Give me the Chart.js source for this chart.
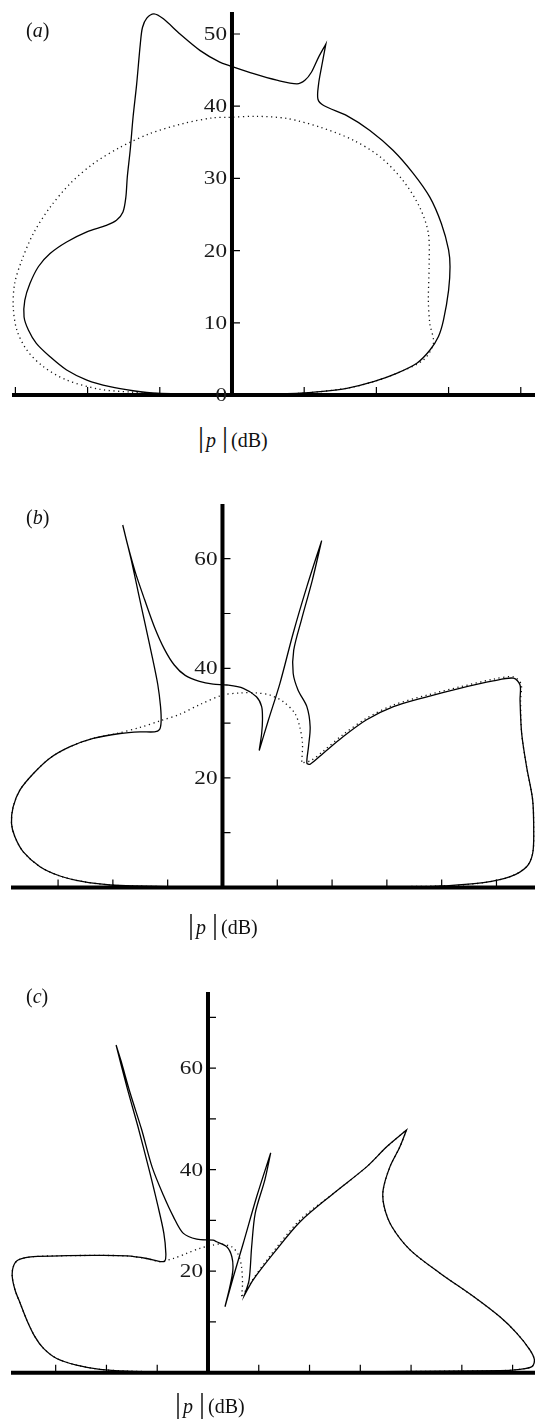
<!DOCTYPE html>
<html>
<head>
<meta charset="utf-8">
<script src="https://cdn.jsdelivr.net/npm/chart.js@4/dist/chart.umd.min.js"></script>
<style>
  html, body { margin: 0; padding: 0; background: #fff; }
  #page { position: relative; width: 535px; height: 1422px; overflow: hidden; font-family: "Liberation Serif", "Times New Roman", serif; color: #111; }
  canvas { position: absolute; left: 0; }
  .tag { position: absolute; font-size: 20px; line-height: 20px; white-space: nowrap; }
  .xlab { position: absolute; font-size: 20px; line-height: 24px; white-space: nowrap; }
  .xlab .bar { font-size: 30px; line-height: 24px; margin: 0 2px; }
  .xlab i { font-size: 20px; margin-right: 4px; }
  .xlab .db { font-size: 20px; margin-left: 1px; }
</style>
</head>
<body>
<div id="page">
  <canvas id="chartA" width="535" height="420" style="top:0px"></canvas>
  <canvas id="chartB" width="535" height="430" style="top:480px"></canvas>
  <canvas id="chartC" width="535" height="425" style="top:970px"></canvas>

  <div class="tag" style="left:26px; top:20px">(<i>a</i>)</div>
  <div class="tag" style="left:26px; top:507px">(<i>b</i>)</div>
  <div class="tag" style="left:26px; top:986px">(<i>c</i>)</div>

  <div class="xlab" style="left:196px; top:425px"><span class="bar">|</span><i>p</i><span class="bar">|</span><span class="db">(dB)</span></div>
  <div class="xlab" style="left:186px; top:912px"><span class="bar">|</span><i>p</i><span class="bar">|</span><span class="db">(dB)</span></div>
  <div class="xlab" style="left:173px; top:1391px"><span class="bar">|</span><i>p</i><span class="bar">|</span><span class="db">(dB)</span></div>
</div>

<script>
// (a) directivity, solid = full model, dotted = reference
const aSolidX = [0, -10.4, -13.7, -16.9, -20.1, -22.9, -25.2, -27.1, -28.2, -28.8, -28.7, -28.0, -26.8, -25.2, -22.9, -20.1, -17.4, -16.0, -15.1, -14.7, -14.5, -14.1, -13.7, -13.2, -12.7, -12.4, -11.8, -10.8, -9.5, -7.2, -4.4, -1.7, -0.3, 3.0, 6.2, 9.0, 10.1, 11.0, 12.0, 13.0, 12.4, 12.0, 11.9, 12.7, 15.9, 19.1, 22.3, 25.1, 27.4, 29.0, 30.0, 30.2, 30.0, 29.3, 28.6, 27.4, 25.6, 22.8, 19.6, 15.9, 12.2, 9.4, 0];
const aSolidY = [0, 0.24, 0.59, 1.15, 2.07, 3.46, 5.3, 7.15, 9.0, 10.8, 13.1, 15.4, 17.8, 19.6, 21.2, 22.6, 23.5, 24.2, 25.35, 27.4, 30.2, 33.9, 38.5, 43.1, 48.6, 50.9, 52.2, 52.8, 52.1, 50.0, 47.7, 46.1, 45.6, 44.5, 43.6, 43.1, 43.6, 44.7, 46.8, 48.6, 45.4, 43.1, 41.0, 40.1, 38.7, 36.65, 33.9, 30.7, 27.4, 23.75, 20.1, 17.75, 14.5, 10.4, 8.1, 6.2, 4.4, 3.0, 1.85, 0.93, 0.46, 0.24, 0];
const aDotX = [0, -10.4, -14.1, -18.3, -22.9, -26.1, -28.4, -29.8, -30.3, -30.1, -29.1, -27.5, -25.2, -22.4, -19.2, -15.5, -11.4, -6.75, -2.6, -0.7, 3.4, 7.6, 12.2, 16.8, 20.5, 23.7, 26.0, 27.2, 27.3, 27.2, 27.4, 27.9, 26.5, 22.8, 19.6, 15.9, 9.4, 0];
const aDotY = [0, 0.2, 0.41, 0.79, 2.07, 3.9, 6.2, 9.0, 12.2, 15.45, 18.7, 22.4, 26.0, 29.3, 32.05, 34.3, 36.2, 37.6, 38.4, 38.45, 38.6, 38.3, 37.1, 35.3, 33.0, 29.7, 26.0, 22.4, 17.75, 13.1, 9.9, 7.15, 4.84, 3.0, 1.85, 0.93, 0.24, 0];

// (b)
const bSolidX = [0, -16.3, -20.5, -25.4, -29.65, -33.3, -36.35, -37.9, -38.5, -38.2, -36.95, -34.5, -31.5, -27.8, -23.6, -18.7, -15.05, -12.4, -11.5, -11.2, -11.3, -11.8, -12.8, -14.1, -15.4, -16.7, -18.2, -17.3, -15.9, -14.2, -12.4, -10.6, -8.8, -6.8, -4.2, -1.7, 0.8, 3.8, 6.2, 7.15, 7.3, 7.15, 6.7, 8.4, 10.5, 12.9, 15.4, 18.1, 16.4, 14.4, 13.0, 12.9, 13.8, 15.4, 16.0, 15.7, 15.4, 16.0, 18.4, 22.0, 26.3, 31.2, 37.3, 43.3, 49.4, 53.1, 54.3, 54.3, 54.6, 55.5, 56.6, 56.8, 56.6, 55.5, 52.5, 47.6, 40.3, 34.2, 0];
const bSolidY = [0, 0.27, 0.46, 1.06, 2.1, 3.8, 6.5, 9.3, 11.7, 14.7, 17.8, 20.8, 23.6, 25.7, 27.2, 28.1, 28.4, 28.4, 28.8, 30.2, 33.0, 37.0, 42.0, 48.0, 54.0, 60.0, 66.15, 62.5, 57.5, 52.5, 47.5, 43.5, 40.6, 38.7, 37.6, 37.1, 36.95, 36.35, 34.8, 33.0, 30.6, 28.1, 25.0, 30.6, 37.3, 46.4, 54.9, 63.3, 56.1, 48.8, 43.3, 39.1, 36.0, 33.0, 29.3, 25.7, 22.7, 22.5, 24.5, 27.5, 30.6, 33.0, 34.8, 36.35, 37.7, 38.2, 36.95, 34.2, 28.1, 22.0, 16.0, 9.9, 6.2, 3.8, 1.97, 0.88, 0.27, 0.04, 0];
const bDotX = [0, -16.3, -20.5, -25.4, -29.65, -33.3, -36.35, -37.9, -38.5, -38.2, -36.95, -34.5, -31.5, -27.8, -23.6, -19.3, -15.05, -11.4, -7.8, -4.1, 0, 3.2, 6.2, 8.7, 11.1, 13.2, 14.1, 14.6, 14.45, 16.2, 18.4, 22.0, 26.3, 31.2, 37.3, 43.3, 49.4, 53.1, 54.5, 54.4, 54.6, 55.5, 56.6, 56.8, 56.6, 55.5, 52.5, 47.6, 40.3, 0];
const bDotY = [0, 0.27, 0.46, 1.06, 2.1, 3.8, 6.5, 9.3, 11.7, 14.7, 17.8, 20.8, 23.6, 25.7, 27.2, 28.1, 29.2, 30.4, 31.6, 33.4, 35.1, 35.5, 35.5, 35.1, 33.9, 31.8, 29.3, 26.3, 22.7, 23.2, 24.9, 27.9, 30.9, 33.3, 35.1, 36.6, 38.0, 38.45, 37.1, 34.2, 28.1, 22.0, 16.0, 9.9, 6.2, 3.8, 1.97, 0.88, 0.27, 0];

// (c)
const cSolidX = [0, -16.0, -21.3, -25.9, -29.8, -32.4, -34.1, -35.7, -37.0, -38.0, -38.55, -38.35, -37.4, -34.4, -27.8, -21.3, -16.0, -12.1, -9.45, -8.5, -8.3, -8.7, -9.9, -11.6, -13.8, -15.9, -18.1, -17.15, -15.3, -13.1, -11.0, -8.8, -6.8, -4.9, -2.2, 1.0, 1.7, 3.7, 4.7, 4.9, 4.3, 3.35, 5.0, 6.95, 9.6, 12.35, 11.2, 9.3, 8.6, 8.1, 7.15, 8.9, 12.9, 18.1, 24.7, 31.3, 35.2, 39.1, 37.8, 35.85, 34.5, 34.7, 36.2, 39.8, 45.7, 52.3, 57.5, 60.8, 63.4, 64.3, 63.8, 61.45, 57.5, 0];
const cSolidY = [0, 0.33, 0.67, 1.5, 2.8, 4.8, 7.1, 10.4, 13.7, 16.3, 18.9, 20.9, 22.2, 22.85, 23.05, 23.1, 23.0, 22.5, 21.9, 22.0, 23.5, 27.5, 33.0, 40.0, 48.5, 56.0, 64.55, 61.5, 55.0, 48.0, 40.5, 35.0, 30.7, 27.5, 26.3, 26.1, 25.8, 24.8, 22.85, 20.2, 16.9, 13.0, 18.9, 25.5, 34.7, 43.3, 38.0, 31.4, 24.8, 18.3, 15.2, 18.3, 23.5, 29.7, 35.3, 40.6, 44.5, 47.8, 44.5, 40.6, 36.0, 32.7, 28.8, 24.2, 19.6, 15.0, 11.0, 7.8, 4.5, 2.5, 1.2, 0.67, 0.39, 0];
const cDotX = [0, -16.0, -21.3, -25.9, -29.8, -32.4, -34.1, -35.7, -37.0, -38.0, -38.55, -38.35, -37.4, -34.4, -27.8, -21.3, -16.0, -12.1, -9.45, -6.8, -4.2, -1.6, 1.0, 2.4, 4.7, 6.0, 6.6, 6.8, 6.6, 8.3, 11.6, 18.1, 24.7, 31.3, 35.2, 39.1, 37.8, 35.85, 34.5, 34.7, 36.2, 39.8, 45.7, 52.3, 57.5, 60.8, 63.4, 64.3, 63.8, 61.45, 57.5, 0];
const cDotY = [0, 0.33, 0.67, 1.5, 2.8, 4.8, 7.1, 10.4, 13.7, 16.3, 18.9, 20.9, 22.2, 22.85, 23.05, 23.1, 23.0, 22.5, 21.9, 22.5, 23.5, 24.5, 25.15, 25.35, 24.8, 23.2, 20.9, 17.6, 14.8, 17.6, 22.2, 30.1, 35.3, 40.6, 44.5, 47.8, 44.5, 40.6, 36.0, 32.7, 28.8, 24.2, 19.6, 15.0, 11.0, 7.8, 4.5, 2.5, 1.2, 0.67, 0.39, 0];

// tick positions and which of them carry a number
const aXTicks = [-30, -20, -10, 10, 20, 30, 40];
const aYTicks = [10, 20, 30, 40, 50];
const aYLabels = [0, 10, 20, 30, 40, 50];
const bXTicks = [-30, -20, -10, 10, 20, 30, 40, 50];
const bYTicks = [10, 20, 30, 40, 50, 60];
const bYLabels = [20, 40, 60];
const cXTicks = [-30, -20, -10, 10, 20, 30, 40, 50, 60];
const cYTicks = [10, 20, 30, 40, 50, 60, 70];
const cYLabels = [20, 40, 60];

// pair up x/y lists; a point where the path doubles back is repeated
// so the spline leaves the tip pointed instead of rounding it
function pts(xs, ys) {
  const p = xs.map((x, i) => ({ x: x, y: ys[i] }));
  const out = [];
  p.forEach((c, i) => {
    out.push(c);
    const a = p[i - 1], b = p[i + 1];
    if (!a || !b) return;
    const ux = c.x - a.x, uy = c.y - a.y, vx = b.x - c.x, vy = b.y - c.y;
    const cos = (ux * vx + uy * vy) / (Math.hypot(ux, uy) * Math.hypot(vx, vy));
    if (cos < -0.3) out.push({ x: c.x, y: c.y });
  });
  return out;
}

// axes cross at the origin: thick lines, inward ticks, numbers left of the vertical axis
const crossAxes = {
  id: 'crossAxes',
  afterDatasetsDraw(chart, args, opts) {
    const { ctx, chartArea } = chart;
    const xs = chart.scales.x, ys = chart.scales.y;
    const x0 = xs.getPixelForValue(0);
    const y0 = ys.getPixelForValue(0);
    ctx.save();
    ctx.strokeStyle = '#000';
    ctx.lineWidth = 1.2;
    ctx.beginPath();
    opts.xTicks.forEach(v => {
      const px = xs.getPixelForValue(v);
      ctx.moveTo(px, y0);
      ctx.lineTo(px, y0 - 8);
    });
    opts.yTicks.forEach(v => {
      const py = ys.getPixelForValue(v);
      ctx.moveTo(x0, py);
      ctx.lineTo(x0 + 8, py);
    });
    ctx.stroke();

    ctx.lineWidth = 4;
    ctx.beginPath();
    ctx.moveTo(chartArea.left, y0);
    ctx.lineTo(chartArea.right, y0);
    ctx.moveTo(x0, chartArea.top);
    ctx.lineTo(x0, y0 + 2);
    ctx.stroke();

    ctx.fillStyle = '#1a1a1a';
    ctx.font = '19px "Liberation Serif", serif';
    ctx.textAlign = 'right';
    ctx.textBaseline = 'middle';
    opts.yLabels.forEach(v => {
      const py = ys.getPixelForValue(v);
      ctx.save();
      ctx.translate(x0 - 5, py + 1);
      ctx.scale(1.22, 1);
      ctx.fillText(String(v), 0, 0);
      ctx.restore();
    });
    ctx.restore();
  }
};

function makePanel(id, solid, dotted, xr, yr, pad, ticks) {
  new Chart(document.getElementById(id), {
    type: 'scatter',
    data: {
      datasets: [
        { data: solid, showLine: true, borderColor: '#000', borderWidth: 1.3, tension: 0.3, pointRadius: 0, fill: false, clip: false },
        { data: dotted, showLine: true, borderColor: '#111', borderWidth: 1.3, borderDash: [1.2, 3.5], tension: 0.3, pointRadius: 0, fill: false, clip: false }
      ]
    },
    options: {
      responsive: false,
      maintainAspectRatio: false,
      devicePixelRatio: 1,
      animation: false,
      events: [],
      layout: { padding: pad },
      scales: {
        x: { type: 'linear', min: xr[0], max: xr[1], display: false },
        y: { type: 'linear', min: yr[0], max: yr[1], display: false }
      },
      plugins: {
        legend: { display: false },
        tooltip: { enabled: false },
        crossAxes: ticks
      }
    },
    plugins: [crossAxes]
  });
}

makePanel('chartA', pts(aSolidX, aSolidY), pts(aDotX, aDotY),
  [-30.47, 41.97], [0, 53.05], { left: 12, top: 12, right: 0, bottom: 25 },
  { xTicks: aXTicks, yTicks: aYTicks, yLabels: aYLabels });

makePanel('chartB', pts(bSolidX, bSolidY), pts(bDotX, bDotY),
  [-38.59, 57.03], [0, 69.98], { left: 11, top: 24, right: 0, bottom: 22.5 },
  { xTicks: bXTicks, yTicks: bYTicks, yLabels: bYLabels });

makePanel('chartC', pts(cSolidX, cSolidY), pts(cDotX, cDotY),
  [-38.8, 64.41], [0, 75], { left: 11, top: 22, right: 0, bottom: 22.3 },
  { xTicks: cXTicks, yTicks: cYTicks, yLabels: cYLabels });
</script>
</body>
</html>
